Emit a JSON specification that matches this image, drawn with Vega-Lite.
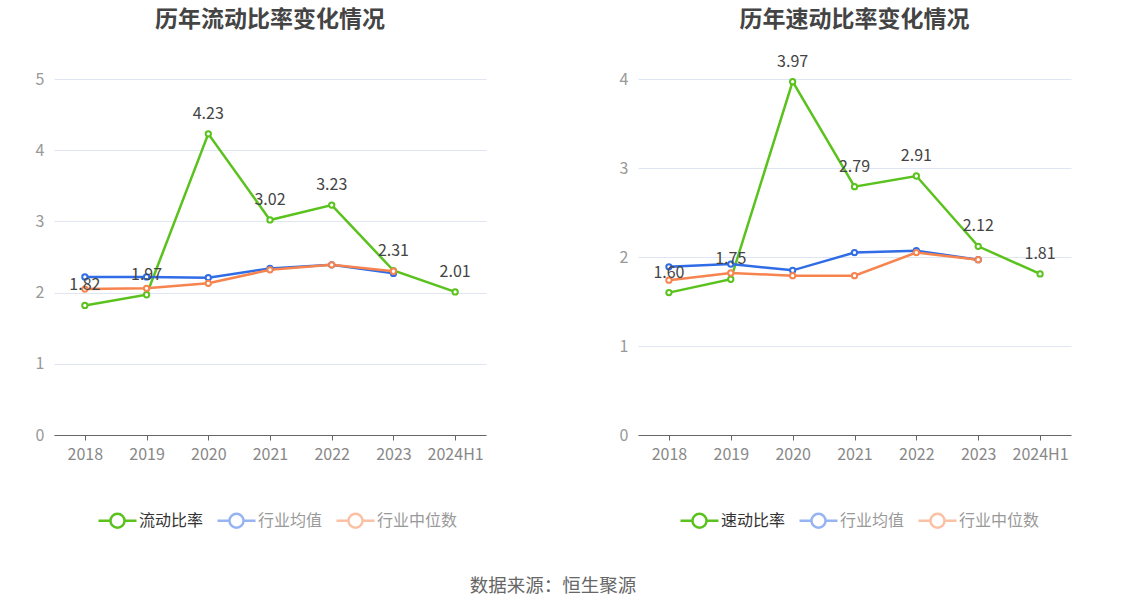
{
  "$schema": "https://vega.github.io/schema/vega-lite/v6.json",
  "padding": {"left": 35, "top": 8, "right": 5, "bottom": 10},
  "title": {"text": "数据来源：恒生聚源", "orient": "bottom", "anchor": "middle", "fontSize": 18.5, "fontWeight": "normal", "color": "#666", "offset": 44},
  "datasets": {
    "cur": [
      {"year": "2018", "series": "流动比率", "value": 1.82},
      {"year": "2019", "series": "流动比率", "value": 1.97},
      {"year": "2020", "series": "流动比率", "value": 4.23},
      {"year": "2021", "series": "流动比率", "value": 3.02},
      {"year": "2022", "series": "流动比率", "value": 3.23},
      {"year": "2023", "series": "流动比率", "value": 2.31},
      {"year": "2024H1", "series": "流动比率", "value": 2.01},
      {"year": "2018", "series": "行业均值", "value": 2.22},
      {"year": "2019", "series": "行业均值", "value": 2.22},
      {"year": "2020", "series": "行业均值", "value": 2.21},
      {"year": "2021", "series": "行业均值", "value": 2.34},
      {"year": "2022", "series": "行业均值", "value": 2.39},
      {"year": "2023", "series": "行业均值", "value": 2.27},
      {"year": "2018", "series": "行业中位数", "value": 2.05},
      {"year": "2019", "series": "行业中位数", "value": 2.06},
      {"year": "2020", "series": "行业中位数", "value": 2.13},
      {"year": "2021", "series": "行业中位数", "value": 2.32},
      {"year": "2022", "series": "行业中位数", "value": 2.39},
      {"year": "2023", "series": "行业中位数", "value": 2.30}
    ],
    "quick": [
      {"year": "2018", "series": "速动比率", "value": 1.60},
      {"year": "2019", "series": "速动比率", "value": 1.75},
      {"year": "2020", "series": "速动比率", "value": 3.97},
      {"year": "2021", "series": "速动比率", "value": 2.79},
      {"year": "2022", "series": "速动比率", "value": 2.91},
      {"year": "2023", "series": "速动比率", "value": 2.12},
      {"year": "2024H1", "series": "速动比率", "value": 1.81},
      {"year": "2018", "series": "行业均值", "value": 1.89},
      {"year": "2019", "series": "行业均值", "value": 1.92},
      {"year": "2020", "series": "行业均值", "value": 1.85},
      {"year": "2021", "series": "行业均值", "value": 2.05},
      {"year": "2022", "series": "行业均值", "value": 2.07},
      {"year": "2023", "series": "行业均值", "value": 1.97},
      {"year": "2018", "series": "行业中位数", "value": 1.74},
      {"year": "2019", "series": "行业中位数", "value": 1.82},
      {"year": "2020", "series": "行业中位数", "value": 1.79},
      {"year": "2021", "series": "行业中位数", "value": 1.79},
      {"year": "2022", "series": "行业中位数", "value": 2.05},
      {"year": "2023", "series": "行业中位数", "value": 1.97}
    ]
  },
  "hconcat": [
    {
      "title": {"text": "历年流动比率变化情况", "offset": 39},
      "width": 432,
      "height": 356,
      "data": {"name": "cur"},
      "encoding": {
        "x": {"field": "year", "type": "ordinal", "scale": {"type": "point", "padding": 0.5}, "title": null},
        "y": {"field": "value", "type": "quantitative", "scale": {"domain": [0, 5]}, "axis": {"values": [0, 1, 2, 3, 4, 5]}, "title": null},
        "color": {
          "field": "series", "type": "nominal",
          "scale": {"domain": ["流动比率", "行业均值", "行业中位数"], "range": ["#5ac21d", "#2f6ce5", "#f7844e"]},
          "legend": {
            "legendX": 43,
            "legendY": 421,
            "encode": {
              "symbols": {"update": {"opacity": {"signal": "datum.value === '流动比率' ? 1 : 0.5"}}},
              "labels": {"update": {"fill": {"signal": "datum.value === '流动比率' ? '#333' : '#999'"}}}
            }
          }
        }
      },
      "layer": [
        {"mark": {"type": "line", "strokeWidth": 2.5}},
        {"mark": {"type": "point", "filled": false, "fill": "white", "fillOpacity": 1, "strokeWidth": 2, "size": 28, "opacity": 1}},
        {
          "transform": [{"filter": "datum.series === '流动比率'"}],
          "mark": {"type": "text", "dy": -20, "fontSize": 16, "color": "#444"},
          "encoding": {"text": {"field": "value", "type": "quantitative", "format": ".2f"}, "color": {"value": "#444"}}
        }
      ]
    },
    {
      "title": {"text": "历年速动比率变化情况", "offset": 22},
      "width": 433,
      "height": 356,
      "data": {"name": "quick"},
      "encoding": {
        "x": {"field": "year", "type": "ordinal", "scale": {"type": "point", "padding": 0.5}, "title": null},
        "y": {"field": "value", "type": "quantitative", "scale": {"domain": [0, 4]}, "axis": {"values": [0, 1, 2, 3, 4]}, "title": null},
        "color": {
          "field": "series", "type": "nominal",
          "scale": {"domain": ["速动比率", "行业均值", "行业中位数"], "range": ["#5ac21d", "#2f6ce5", "#f7844e"]},
          "legend": {
            "legendX": 41,
            "legendY": 421,
            "encode": {
              "symbols": {"update": {"opacity": {"signal": "datum.value === '速动比率' ? 1 : 0.5"}}},
              "labels": {"update": {"fill": {"signal": "datum.value === '速动比率' ? '#333' : '#999'"}}}
            }
          }
        }
      },
      "layer": [
        {"mark": {"type": "line", "strokeWidth": 2.5}},
        {"mark": {"type": "point", "filled": false, "fill": "white", "fillOpacity": 1, "strokeWidth": 2, "size": 28, "opacity": 1}},
        {
          "transform": [{"filter": "datum.series === '速动比率'"}],
          "mark": {"type": "text", "dy": -20, "fontSize": 16, "color": "#444"},
          "encoding": {"text": {"field": "value", "type": "quantitative", "format": ".2f"}, "color": {"value": "#444"}}
        }
      ]
    }
  ],
  "spacing": 133,
  "resolve": {"scale": {"color": "independent"}, "legend": {"color": "independent"}},
  "config": {
    "font": "Noto Sans CJK SC",
    "view": {"stroke": null},
    "title": {"fontSize": 23, "fontWeight": "bold", "color": "#444"},
    "axisX": {"labelAngle": 0, "labelFontSize": 16, "labelColor": "#888", "labelPadding": 6, "domainColor": "#666", "tickColor": "#666", "tickSize": 5, "grid": false},
    "axisY": {"labelFontSize": 16, "labelColor": "#999", "labelPadding": 10, "domain": false, "ticks": false, "gridColor": "#e0e6f1", "gridWidth": 1},
    "legend": {
      "orient": "none",
      "direction": "horizontal",
      "title": null,
      "labelFontSize": 16,
      "labelColor": "#333",
      "labelOffset": 1,
      "columnPadding": 8,
      "symbolType": "M-1,0L-0.37,0M0.37,0L1,0M0.37,0A0.37,0.37,0,1,1,-0.37,0A0.37,0.37,0,1,1,0.37,0",
      "symbolSize": 1444,
      "symbolStrokeWidth": 2.5,
      "symbolFillColor": "white"
    }
  }
}
